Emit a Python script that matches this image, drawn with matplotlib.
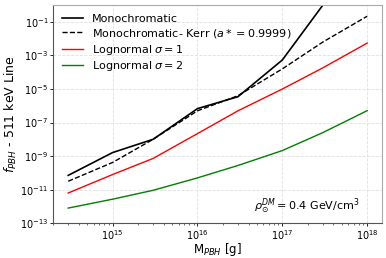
import numpy as np
import matplotlib.pyplot as plt

# PBH masses [g]
masses = [3e14, 1e15, 3e15, 1e16, 3e16, 1e17, 3e17, 1e18]

# log10 of f_PBH upper limits
mono = [-10.15, -8.79, -8.0, -6.17, -5.46, -3.27, 0.0, 0.0]
kerr = [-10.5, -9.38, -8.0, -6.3, -5.4, -3.8, -2.2, -0.66]
logn1 = [-11.2, -10.1, -9.14, -7.66, -6.3, -5.0, -3.74, -2.26]
logn2 = [-12.1, -11.57, -11.04, -10.3, -9.56, -8.67, -7.6, -6.29]

fig, ax = plt.subplots(figsize=(3.86, 2.58), dpi=100)

ax.plot(masses, 10 ** np.array(mono), color="black", lw=1.2, label="Monochromatic")
ax.plot(masses, 10 ** np.array(kerr), color="black", ls="--", lw=1.0,
        label=r"Monochromatic- Kerr ($a*=0.9999$)")
ax.plot(masses, 10 ** np.array(logn1), color="red", lw=1.0, label=r"Lognormal $\sigma=1$")
ax.plot(masses, 10 ** np.array(logn2), color="green", lw=1.0, label=r"Lognormal $\sigma=2$")

ax.set_xscale("log")
ax.set_yscale("log")
ax.set_ylim(1e-13, 1)
ax.set_yticks([1e-13, 1e-11, 1e-9, 1e-7, 1e-5, 1e-3, 1e-1])
ax.yaxis.set_minor_locator(plt.NullLocator())
ax.grid(True, ls="--", color="#e0e0e0", lw=0.6)
ax.tick_params(labelsize=7, length=2.5, width=0.6, pad=1)
ax.tick_params(which="minor", length=1.5, width=0.4)
for side in ["top", "right"]:
    ax.spines[side].set_color("#aaaaaa")
for side in ["left", "bottom"]:
    ax.spines[side].set_color("#555555")

ax.set_xlabel(r"M$_{PBH}$ [g]", fontsize=8.5, labelpad=-0.5)
ax.set_ylabel(r"$f_{PBH}$ - 511 keV Line", fontsize=9, labelpad=1)
ax.text(0.93, 0.035, r"$\rho_{\odot}^{DM} = 0.4$ GeV/cm$^3$", transform=ax.transAxes,
        ha="right", va="bottom", fontsize=8)
ax.legend(loc="upper left", frameon=False, fontsize=8, handlelength=1.9,
          borderaxespad=0.4, labelspacing=0.25)

fig.subplots_adjust(left=0.138, right=0.99, top=0.98, bottom=0.135)
fig.savefig("out.png")
